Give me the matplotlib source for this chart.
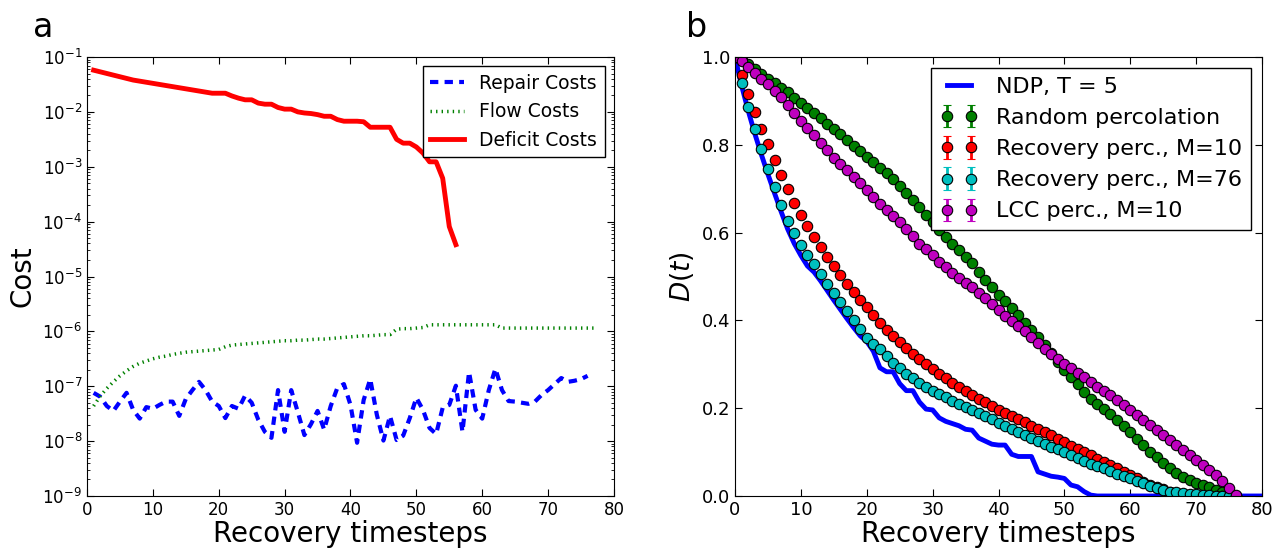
import numpy as np
import matplotlib
matplotlib.use("Agg")
import matplotlib.pyplot as plt

plt.rcParams['font.family'] = ['DejaVu Sans']
plt.rcParams['xtick.direction'] = 'in'
plt.rcParams['ytick.direction'] = 'in'
plt.rcParams['xtick.top'] = True
plt.rcParams['ytick.right'] = True
plt.rcParams['xtick.major.size'] = 5
plt.rcParams['ytick.major.size'] = 5
plt.rcParams['xtick.minor.size'] = 2.5
plt.rcParams['ytick.minor.size'] = 2.5

# ---- panel a: costs per recovery timestep (log10 of the cost) ----
repair_log = [-7.12, -7.19, -7.36, -7.45, -7.28, -7.12, -7.43, -7.59, -7.38, -7.41,
              -7.34, -7.28, -7.28, -7.54, -7.23, -7.07, -6.92, -7.07, -7.28, -7.36,
              -7.58, -7.36, -7.41, -7.17, -7.30, -7.61, -7.83, -7.94, -7.07, -7.83,
              -7.07, -7.47, -7.89, -7.69, -7.45, -7.79, -7.36, -7.03, -6.96, -7.34,
              -8.03, -7.25, -6.87, -7.52, -7.99, -7.54, -7.98, -7.90, -7.58, -7.21,
              -7.43, -7.76, -7.87, -7.39, -7.34, -6.99, -7.83, -6.74, -7.43, -7.59,
              -7.07, -6.68, -7.07, -7.27, -7.28, -7.30, -7.32, -7.28, -7.16, -7.07,
              -6.96, -6.85, -6.92, -6.90, -6.87, -6.81]
flow_log = [-7.36, -7.18, -7.04, -6.92, -6.81, -6.72, -6.64, -6.58, -6.54, -6.50,
            -6.47, -6.45, -6.42, -6.40, -6.38, -6.37, -6.36, -6.35, -6.34, -6.33,
            -6.28, -6.25, -6.24, -6.23, -6.22, -6.21, -6.20, -6.19, -6.18, -6.17,
            -6.17, -6.16, -6.16, -6.15, -6.14, -6.14, -6.13, -6.12, -6.11, -6.10,
            -6.09, -6.08, -6.08, -6.07, -6.06, -6.06, -5.96, -5.95, -5.95, -5.94,
            -5.93, -5.88, -5.88, -5.88, -5.88, -5.88, -5.88, -5.88, -5.88, -5.88,
            -5.88, -5.88, -5.94, -5.94, -5.94, -5.94, -5.94, -5.94, -5.94, -5.94,
            -5.94, -5.94, -5.94, -5.94, -5.94, -5.94, -5.94]
deficit_log = [-1.24, -1.27, -1.30, -1.33, -1.36, -1.39, -1.42, -1.44, -1.46, -1.48,
               -1.50, -1.52, -1.54, -1.56, -1.58, -1.60, -1.62, -1.64, -1.66, -1.66,
               -1.66, -1.71, -1.75, -1.78, -1.78, -1.84, -1.86, -1.86, -1.92, -1.95,
               -1.95, -2.00, -2.02, -2.03, -2.05, -2.08, -2.08, -2.14, -2.17, -2.17,
               -2.17, -2.18, -2.28, -2.28, -2.28, -2.28, -2.50, -2.57, -2.57, -2.64,
               -2.75, -2.91, -2.91, -3.21, -4.09, -4.42]

# ---- panel b: D(t) ----
ndp = [1.000, 0.935, 0.878, 0.826, 0.778, 0.733, 0.690, 0.648, 0.608, 0.575,
       0.548, 0.524, 0.510, 0.490, 0.468, 0.446, 0.425, 0.404, 0.384, 0.365,
       0.352, 0.330, 0.292, 0.283, 0.283, 0.256, 0.240, 0.240, 0.214, 0.198,
       0.196, 0.178, 0.170, 0.165, 0.160, 0.152, 0.150, 0.132, 0.125, 0.118,
       0.116, 0.116, 0.095, 0.090, 0.090, 0.090, 0.055, 0.050, 0.045, 0.043,
       0.040, 0.025, 0.021, 0.010, 0.002, 0.0, 0.0, 0.0, 0.0, 0.0,
       0.0, 0.0, 0.0, 0.0, 0.0, 0.0, 0.0, 0.0, 0.0, 0.0,
       0.0, 0.0, 0.0, 0.0, 0.0, 0.0, 0.0, 0.0, 0.0, 0.0, 0.0]
random_perc = [1.000, 0.993, 0.984, 0.972, 0.961, 0.951, 0.940, 0.930, 0.920, 0.907,
               0.895, 0.884, 0.872, 0.860, 0.848, 0.836, 0.824, 0.811, 0.798, 0.786,
               0.773, 0.761, 0.748, 0.735, 0.722, 0.707, 0.691, 0.675, 0.659, 0.641,
               0.624, 0.607, 0.590, 0.575, 0.560, 0.545, 0.530, 0.511, 0.493, 0.476,
               0.458, 0.445, 0.428, 0.412, 0.395, 0.378, 0.362, 0.345, 0.325, 0.305,
               0.288, 0.271, 0.255, 0.238, 0.222, 0.210, 0.199, 0.187, 0.173, 0.159,
               0.145, 0.130, 0.116, 0.101, 0.088, 0.075, 0.063, 0.053, 0.044, 0.036,
               0.030, 0.025, 0.020, 0.014, 0.008, 0.003, 0.000]
recovery_m10 = [1.000, 0.959, 0.915, 0.874, 0.837, 0.801, 0.765, 0.731, 0.699, 0.668,
                0.640, 0.614, 0.590, 0.567, 0.545, 0.524, 0.504, 0.484, 0.465, 0.447,
                0.430, 0.412, 0.395, 0.379, 0.364, 0.350, 0.336, 0.323, 0.311, 0.300,
                0.289, 0.278, 0.268, 0.258, 0.249, 0.239, 0.230, 0.221, 0.213, 0.205,
                0.197, 0.190, 0.183, 0.175, 0.168, 0.160, 0.153, 0.145, 0.138, 0.130,
                0.123, 0.115, 0.108, 0.100, 0.093, 0.085, 0.078, 0.070, 0.063, 0.055,
                0.048, 0.040, 0.033, 0.026, 0.020, 0.015, 0.010, 0.007, 0.005, 0.003,
                0.002, 0.001, 0.001, 0.000, 0.000, 0.000, 0.000]
recovery_m76 = [1.000, 0.940, 0.885, 0.836, 0.790, 0.746, 0.705, 0.663, 0.627, 0.598,
                0.572, 0.549, 0.528, 0.505, 0.484, 0.463, 0.442, 0.422, 0.402, 0.380,
                0.361, 0.347, 0.334, 0.318, 0.304, 0.291, 0.279, 0.268, 0.257, 0.248,
                0.240, 0.232, 0.225, 0.217, 0.210, 0.203, 0.196, 0.189, 0.182, 0.175,
                0.167, 0.160, 0.152, 0.145, 0.139, 0.132, 0.126, 0.118, 0.112, 0.106,
                0.100, 0.094, 0.087, 0.080, 0.074, 0.068, 0.063, 0.057, 0.051, 0.046,
                0.040, 0.034, 0.029, 0.023, 0.018, 0.014, 0.010, 0.008, 0.006, 0.005,
                0.004, 0.003, 0.002, 0.001, 0.001, 0.000, 0.000]
lcc_m10 = [1.000, 0.992, 0.978, 0.964, 0.951, 0.938, 0.923, 0.908, 0.890, 0.872,
           0.855, 0.838, 0.822, 0.805, 0.788, 0.771, 0.757, 0.743, 0.727, 0.712,
           0.697, 0.682, 0.666, 0.651, 0.638, 0.625, 0.609, 0.592, 0.575, 0.562,
           0.548, 0.534, 0.521, 0.509, 0.497, 0.486, 0.475, 0.462, 0.450, 0.437,
           0.424, 0.411, 0.399, 0.387, 0.375, 0.363, 0.349, 0.334, 0.323, 0.312,
           0.301, 0.291, 0.281, 0.270, 0.259, 0.249, 0.239, 0.229, 0.218, 0.207,
           0.196, 0.184, 0.173, 0.162, 0.151, 0.139, 0.128, 0.116, 0.105, 0.093,
           0.082, 0.071, 0.059, 0.047, 0.034, 0.019, 0.002]

fig = plt.figure(figsize=(12.78, 5.54), dpi=100)

# panel a
ax1 = fig.add_axes([0.0681, 0.1047, 0.4123, 0.7924])
t_rep = np.arange(1, len(repair_log) + 1)
t_flow = np.arange(1, len(flow_log) + 1)
t_def = np.arange(1, len(deficit_log) + 1)
ax1.plot(t_rep, 10.0 ** np.array(repair_log), color='b', lw=3,
         dashes=(2.0, 1.5), label='Repair Costs')
ax1.plot(t_flow, 10.0 ** np.array(flow_log), color='g', lw=2.5,
         dashes=(0.4, 1.2), label='Flow Costs')
ax1.plot(t_def, 10.0 ** np.array(deficit_log), color='r', lw=3.5,
         label='Deficit Costs')
ax1.set_yscale('log')
ax1.set_xlim(0, 80)
ax1.set_ylim(1e-9, 1e-1)
ax1.set_xticks(np.arange(0, 81, 10))
ax1.tick_params(labelsize=12)
ax1.set_xlabel('Recovery timesteps', fontsize=20, labelpad=1)
ax1.set_ylabel('Cost', fontsize=20)
leg1 = ax1.legend(loc='upper right', fontsize=13.5, handlelength=1.8,
                  fancybox=False, framealpha=1, edgecolor='k')
leg1.get_frame().set_linewidth(1.0)

# panel b
ax2 = fig.add_axes([0.5751, 0.1047, 0.4124, 0.7924])
t_ndp = np.arange(len(ndp))
t_perc = np.arange(len(random_perc))
ax2.plot(t_ndp, ndp, color='b', lw=3.5, label='NDP, T = 5')
series = [(random_perc, 'g', 'Random percolation'),
          (recovery_m10, 'r', 'Recovery perc., M=10'),
          (recovery_m76, 'c', 'Recovery perc., M=76'),
          (lcc_m10, 'm', 'LCC perc., M=10')]
for vals, col, lab in series:
    ax2.errorbar(t_perc, vals, yerr=np.zeros(len(vals)), fmt='o', color=col,
                 mec='k', mew=0.8, ms=7.5, elinewidth=2, capsize=3,
                 capthick=2, label=lab)
ax2.set_xlim(0, 80)
ax2.set_ylim(0, 1)
ax2.set_xticks(np.arange(0, 81, 10))
ax2.set_yticks(np.arange(0, 1.01, 0.2))
ax2.set_yticklabels(['0.0', '0.2', '0.4', '0.6', '0.8', '1.0'])
ax2.tick_params(labelsize=13)
ax2.set_xlabel('Recovery timesteps', fontsize=20, labelpad=1)
ax2.set_ylabel('$D(t)$', fontsize=19)
leg2 = ax2.legend(loc='upper right', fontsize=16, numpoints=2, handlelength=1.7,
                  fancybox=False, framealpha=1, edgecolor='k')
leg2.get_frame().set_linewidth(1.0)

fig.text(0.034, 0.95, 'a', fontsize=24, ha='center', va='center')
fig.text(0.545, 0.95, 'b', fontsize=24, ha='center', va='center')

fig.savefig('out.png', dpi=100)
